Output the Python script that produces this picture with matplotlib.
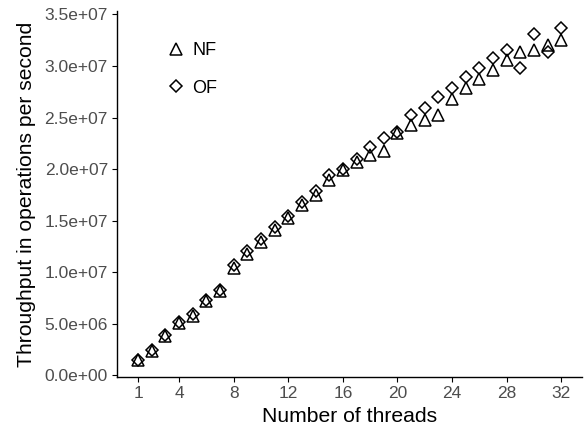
import numpy as np
import matplotlib
matplotlib.use("Agg")
import matplotlib.pyplot as plt

plt.rcParams['font.family'] = ['Liberation Sans', 'DejaVu Sans']

# throughput (ops/s) per thread count
threads = list(range(1, 33))
nf = [1.45e6, 2.4e6, 3.8e6, 5.1e6, 5.8e6, 7.2e6, 8.2e6, 1.04e7, 1.18e7, 1.29e7,
      1.41e7, 1.53e7, 1.65e7, 1.746e7, 1.89e7, 1.99e7, 2.07e7, 2.14e7, 2.18e7, 2.35e7,
      2.425e7, 2.48e7, 2.52e7, 2.68e7, 2.79e7, 2.877e7, 2.958e7, 3.055e7, 3.136e7, 3.159e7,
      3.20e7, 3.256e7]
of = [1.52e6, 2.49e6, 3.88e6, 5.17e6, 5.9e6, 7.27e6, 8.3e6, 1.067e7, 1.21e7, 1.326e7,
      1.44e7, 1.55e7, 1.68e7, 1.79e7, 1.94e7, 2.0e7, 2.10e7, 2.21e7, 2.305e7, 2.36e7,
      2.52e7, 2.596e7, 2.70e7, 2.79e7, 2.89e7, 2.98e7, 3.078e7, 3.159e7, 2.98e7, 3.307e7,
      3.136e7, 3.372e7]
xticks = [1, 4, 8, 12, 16, 20, 24, 28, 32]
yticks = [0, 5e6, 1e7, 1.5e7, 2e7, 2.5e7, 3e7, 3.5e7]
ytick_labels = ["0.0e+00", "5.0e+06", "1.0e+07", "1.5e+07", "2.0e+07",
                "2.5e+07", "3.0e+07", "3.5e+07"]

fig = plt.figure(figsize=(5.84, 4.32), dpi=100)
ax = fig.add_axes([0.2003, 0.1273, 0.797, 0.8472])

ax.plot(threads, nf, linestyle='none', marker='^', ms=8.5, mfc='none',
        mec='black', mew=1.1, label='NF')
ax.plot(threads, of, linestyle='none', marker='D', ms=5.8, mfc='none',
        mec='black', mew=1.1, label='OF')

# ggplot-like 5% expansion
def expand(lo, hi, f=0.05):
    d = (hi - lo) * f
    return lo - d, hi + d

ax.set_xlim(*expand(min(threads), max(threads)))
ax.set_ylim(*expand(min(nf + of), max(nf + of)))

ax.set_xticks(xticks)
ax.set_yticks(yticks)
ax.set_yticklabels(ytick_labels)
ax.tick_params(labelcolor='#4d4d4d', color='black', labelsize=12.5,
               length=3.5, width=0.8, pad=3)

for s in ['top', 'right']:
    ax.spines[s].set_visible(False)
for s in ['left', 'bottom']:
    ax.spines[s].set_linewidth(1.0)

ax.set_xlabel("Number of threads", fontsize=15.2, labelpad=4)
ax.set_ylabel("Throughput in operations per second", fontsize=15.2, labelpad=6)

ax.legend(loc='upper left', bbox_to_anchor=(0.072, 0.96), frameon=False,
          fontsize=13, labelspacing=1.15, handlelength=1.0, handletextpad=0.4)

fig.savefig("out.png", dpi=100)
